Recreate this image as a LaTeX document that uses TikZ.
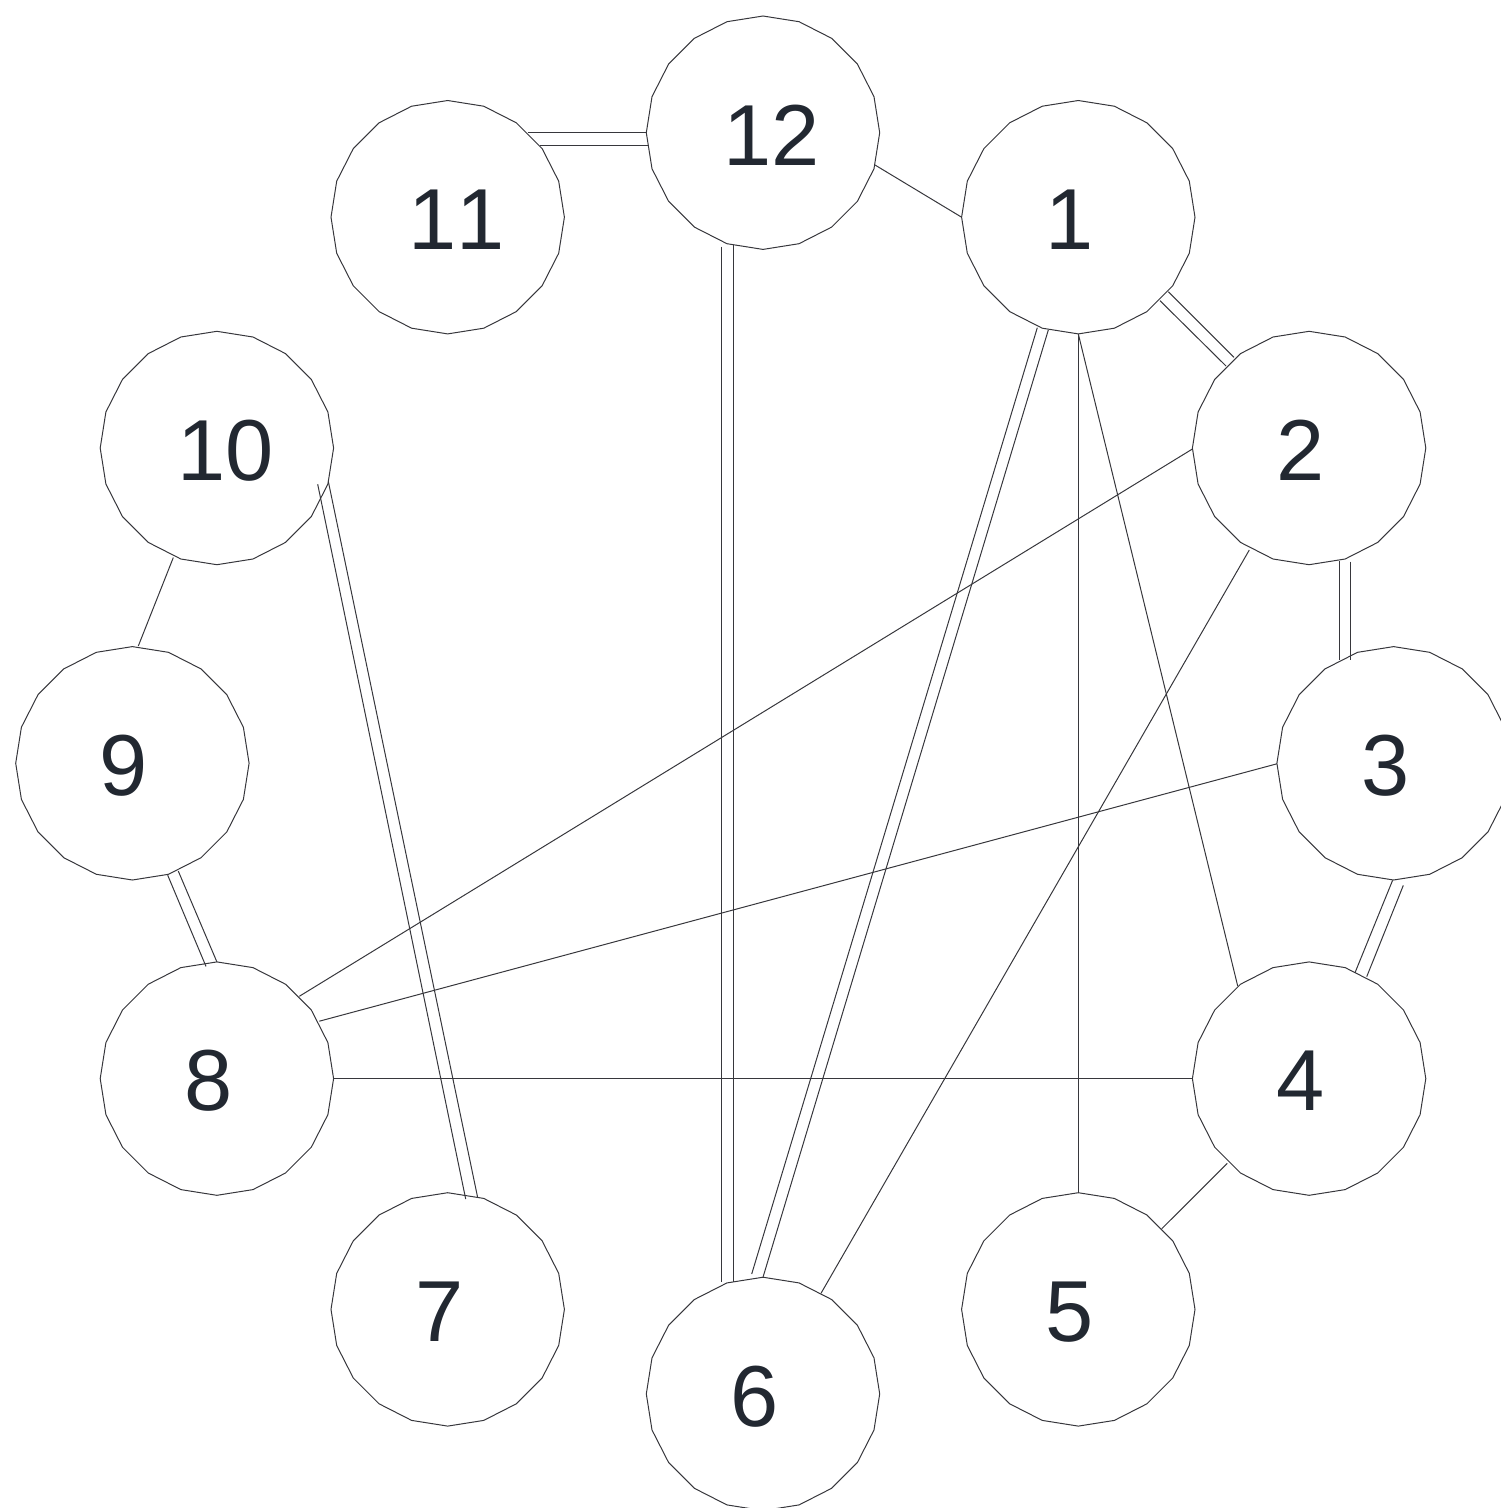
\documentclass[tikz,border=0pt]{standalone}
\usepackage{fontspec}
\setmainfont{Liberation Sans}[Kerning=Off]
\usetikzlibrary{shapes.geometric,calc}
\definecolor{linec}{RGB}{55,55,60}
\definecolor{textc}{RGB}{34,40,49}
\tikzset{
  vtx/.style={regular polygon, regular polygon sides=20, regular polygon rotate=9,
    minimum size=233.4pt, inner sep=0pt, outer sep=0pt, draw=linec, line width=1pt},
  lbl/.style={text=textc, font=\fontsize{86.6pt}{100pt}\selectfont, inner sep=0pt},
  one/.style={lbl, xshift=-8.5pt, yshift=-2.5pt},
  two/.style={lbl, xshift=8.5pt, yshift=-2.5pt},
  conn/.style={draw=linec, line width=1pt},
}
\begin{document}
\begin{tikzpicture}[x=1pt,y=-1pt]
\useasboundingbox (0,0) rectangle (1501,1508);
% nodes
\node[vtx, label={[two]center:12}] (n12) at (763,132.7) {};
\node[vtx, label={[one]center:1}]  (n1)  at (1078.3,217.2) {};
\node[vtx, label={[one]center:2}]  (n2)  at (1309.1,448.0) {};
\node[vtx, label={[one]center:3}]  (n3)  at (1393.6,763.3) {};
\node[vtx, label={[one]center:4}]  (n4)  at (1309.1,1078.6) {};
\node[vtx, label={[one]center:5}]  (n5)  at (1078.3,1309.4) {};
\node[vtx, label={[one]center:6}]  (n6)  at (763,1393.9) {};
\node[vtx, label={[one]center:7}]  (n7)  at (447.7,1309.4) {};
\node[vtx, label={[one]center:8}]  (n8)  at (216.9,1078.6) {};
\node[vtx, label={[one]center:9}]  (n9)  at (132.4,763.3) {};
\node[vtx, label={[two]center:10}] (n10) at (216.9,448.0) {};
\node[vtx, label={[two]center:11}] (n11) at (447.7,217.2) {};
% edges
% 11 = 12
\draw[conn] ($(n11.center)+(80,-84.5)$) -- ($(n12.center)+(-116.7,0)$);
\draw[conn] ($(n11.center)+(92.6,-72.2)$) -- ($(n12.center)+(-115.5,12.3)$);
% 12 - 1
\draw[conn] ($(n12.center)+(112,32.3)$) -- ($(n1.center)+(-116.7,0)$);
% 12 = 6
\draw[conn] ($(n12.center)+(-30,112)$) -- ($(n6.center)+(-30,-112)$);
\draw[conn] ($(n12.center)+(-41.3,114)$) -- ($(n6.center)+(-41.3,-112.2)$);
% 1 = 2
\draw[conn] ($(n1.center)+(90,74.5)$) -- ($(n2.center)+(-75.1,-90.7)$);
\draw[conn] ($(n1.center)+(81.7,83.5)$) -- ($(n2.center)+(-83.1,-82)$);
% 1 = 6
\draw[conn] ($(n1.center)+(-30,112.8)$) -- ($(n6.center)+(0,-116.7)$);
\draw[conn] ($(n1.center)+(-41,110.5)$) -- ($(n6.center)+(-11.3,-119.9)$);
% 1 - 5
\draw[conn] ($(n1.center)+(0,116.7)$) -- ($(n5.center)+(0,-116.7)$);
% 1 - 4
\draw[conn] ($(n1.center)+(0,116.7)$) -- ($(n4.center)+(-71.4,-92.6)$);
% 2 - 8
\draw[conn] ($(n2.center)+(-116.7,1)$) -- ($(n8.center)+(82.4,-82.3)$);
% 2 - 6
\draw[conn] ($(n2.center)+(-59.8,102)$) -- ($(n6.center)+(58,-100.6)$);
% 2 = 3
\draw[conn] ($(n2.center)+(30.2,112.7)$) -- ($(n3.center)+(-54.3,-103.3)$);
\draw[conn] ($(n2.center)+(41.6,113.7)$) -- ($(n3.center)+(-42.9,-103.3)$);
% 3 - 8
\draw[conn] ($(n3.center)+(-116.7,0.5)$) -- ($(n8.center)+(102.4,-57.4)$);
% 3 = 4
\draw[conn] ($(n3.center)+(-1,117)$) -- ($(n4.center)+(45.9,-105.9)$);
\draw[conn] ($(n3.center)+(9.7,122.1)$) -- ($(n4.center)+(57.6,-101.9)$);
% 4 - 8
\draw[conn] ($(n8.center)+(116.7,0)$) -- ($(n4.center)+(-116.7,0)$);
% 4 - 5
\draw[conn] ($(n4.center)+(-81.8,84.7)$) -- ($(n5.center)+(83.4,-80.6)$);
% 10 - 9
\draw[conn] ($(n10.center)+(-43.6,109.6)$) -- ($(n9.center)+(5.9,-117.3)$);
% 9 = 8
\draw[conn] ($(n9.center)+(35.3,111.9)$) -- ($(n8.center)+(-10.9,-112.2)$);
\draw[conn] ($(n9.center)+(45.9,107.8)$) -- ($(n8.center)+(0,-116.7)$);
% 10 = 7
\draw[conn] ($(n10.center)+(100.8,36.3)$) -- ($(n7.center)+(18,-110.4)$);
\draw[conn] ($(n10.center)+(111.4,33.4)$) -- ($(n7.center)+(30,-111.7)$);
\end{tikzpicture}
\end{document}
